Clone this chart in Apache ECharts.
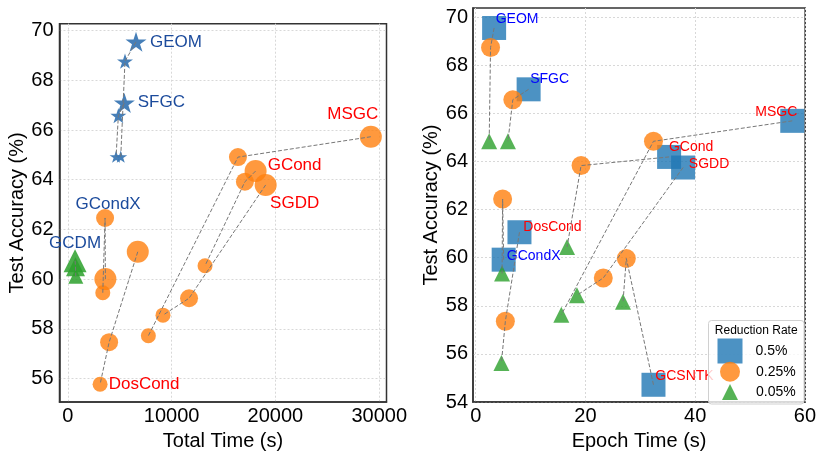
<!DOCTYPE html>
<html>
<head>
<meta charset="utf-8">
<script src="https://cdn.jsdelivr.net/npm/echarts@6/dist/echarts.min.js"></script>
<style>
  html, body { margin: 0; padding: 0; background: #fff; }
  #chart { width: 819px; height: 456px; }
</style>
</head>
<body>
<div id="chart"></div>
<script>
const rates = ['0.5%', '0.25%', '0.05%']

// left panel: total time (s) and test accuracy (%), each row ordered 0.5% / 0.25% / 0.05%
const leftMethods = ['GEOM', 'SFGC', 'GCondX', 'GCDM', 'DosCond', 'MSGC', 'GCond', 'SGDD']
const leftTime = [
  [6570, 5510, 5100],
  [5450, 4870, 4650],
  [3620, 3590, 3370],
  [700, 740, 770],
  [6740, 3980, 3110],
  [29190, 16390, 7760],
  [18090, 17060, 13220],
  [19060, 11680, 9170]
]
const leftAcc = [
  [69.55, 68.77, 64.93],
  [67.09, 66.58, 64.93],
  [60.0, 62.46, 59.45],
  [60.74, 60.5, 60.12],
  [61.1, 57.46, 55.77],
  [65.73, 64.91, 57.72],
  [64.35, 63.92, 60.54],
  [63.79, 59.23, 58.55]
]
const leftXTicks = [0, 10000, 20000, 30000]
const leftYTicks = [56, 58, 60, 62, 64, 66, 68, 70]

// right panel: epoch time (s) and test accuracy (%)
const rightMethods = ['GEOM', 'SFGC', 'MSGC', 'GCond', 'SGDD', 'DosCond', 'GCondX', 'GCSNTK']
const rightEpoch = [
  [3.35, 2.7, 2.45],
  [9.64, 6.76, 5.87],
  [57.7, 32.4, 15.6],
  [35.25, 19.2, 16.65],
  [37.8, 23.25, 18.45],
  [7.97, 5.4, 4.68],
  [5.09, 4.9, 4.8],
  [32.4, 27.45, 26.85]
]
const rightAcc = [
  [69.55, 68.74, 64.84],
  [67.0, 66.57, 64.84],
  [65.69, 64.84, 57.63],
  [64.19, 63.83, 60.45],
  [63.75, 59.16, 58.44],
  [61.06, 57.36, 55.63],
  [59.92, 62.44, 59.35],
  [54.72, 59.97, 58.17]
]
const rightXTicks = [0, 20, 40, 60]
const rightYTicks = [54, 56, 58, 60, 62, 64, 66, 68, 70]

const FONT = '"Liberation Sans", Arial, sans-serif'
const DARK_BLUE = '#1c4b9c'
const RED = '#ff0000'
const BLUE = '#0000ff'

const starPath = 'path://M0,-50L11.23,-15.45L47.55,-15.45L18.16,5.9L29.39,40.45L0,19.1L-29.39,40.45L-18.16,5.9L-47.55,-15.45L-11.23,-15.45Z'
const leftLook = {
  star: { symbol: starPath, sizes: [21, 16, 13], color: 'rgba(60,120,180,0.95)' },
  circle: { symbol: 'circle', sizes: [22, 18, 15], color: 'rgba(255,127,14,0.8)' },
  triangle: { symbol: 'triangle', sizes: [23, 19, 15], color: 'rgba(44,160,44,0.85)' }
}
const leftShape = { GEOM: 'star', SFGC: 'star', GCDM: 'triangle' }

// which point carries the name, and where the text sits relative to it (px)
const leftLabels = {
  GEOM: { at: 0, offset: [40, 0], color: DARK_BLUE },
  SFGC: { at: 0, offset: [37, -1], color: DARK_BLUE },
  GCondX: { at: 1, offset: [3, -14], color: DARK_BLUE },
  GCDM: { at: 0, offset: [0, -17], color: DARK_BLUE },
  DosCond: { at: 2, offset: [44, 0], color: RED },
  MSGC: { at: 0, offset: [-18, -22], color: RED },
  GCond: { at: 0, offset: [39, -6], color: RED },
  SGDD: { at: 0, offset: [29, 18], color: RED }
}
const rightLabels = {
  GEOM: { offset: [23, -9], color: BLUE },
  SFGC: { offset: [21, -10], color: BLUE },
  MSGC: { offset: [-16, -9], color: RED },
  GCond: { offset: [22, -10], color: RED },
  SGDD: { offset: [26, -3], color: RED },
  DosCond: { offset: [33, -5], color: RED },
  GCondX: { offset: [30, -4], color: BLUE },
  GCSNTK: { offset: [31, -9], color: RED }
}
const rightLook = [
  { symbol: 'rect', size: 24, color: 'rgba(31,119,180,0.8)' },
  { symbol: 'circle', size: 19, color: 'rgba(255,127,14,0.8)' },
  { symbol: 'triangle', size: 16, color: 'rgba(44,160,44,0.8)' }
]

function valueAxis(gridIndex, min, max, ticks, name, nameGap, margin) {
  return {
    type: 'value',
    gridIndex,
    min,
    max,
    name,
    nameLocation: 'middle',
    nameGap,
    nameTextStyle: { fontSize: 20, color: '#000', fontFamily: FONT },
    axisLine: { show: true, onZero: false, lineStyle: { color: '#333', width: 1.5 } },
    axisTick: { show: false, customValues: ticks },
    axisLabel: {
      customValues: ticks, fontSize: 20, color: '#000', fontFamily: FONT, margin,
      formatter: v => String(v)
    },
    splitLine: { show: true, lineStyle: { color: '#d8d8d8', type: [2, 2], width: 1 } }
  }
}

function connector(xIdx, yIdx, xs, ys) {
  return {
    type: 'line',
    xAxisIndex: xIdx,
    yAxisIndex: yIdx,
    data: xs.map((x, k) => [x, ys[k]]),
    symbol: 'none',
    silent: true,
    z: 3,
    lineStyle: { color: '#777', width: 1, type: [4, 2] }
  }
}

function nameLabel(text, lab, size) {
  return {
    show: true, formatter: text, position: 'inside', offset: lab.offset,
    color: lab.color, fontSize: size, fontFamily: FONT,
    textBorderWidth: 0, textBorderColor: 'transparent'
  }
}

const series = []

leftMethods.forEach((m, i) => {
  const look = leftLook[leftShape[m] || 'circle']
  const lab = leftLabels[m]
  series.push({
    type: 'scatter',
    xAxisIndex: 0,
    yAxisIndex: 0,
    symbol: look.symbol,
    symbolKeepAspect: true,
    itemStyle: { color: look.color, opacity: 1 },
    z: 2,
    data: leftTime[i].map((t, k) => {
      const item = { value: [t, leftAcc[i][k]], symbolSize: look.sizes[k] }
      if (k === lab.at) item.label = nameLabel(m, lab, 17)
      return item
    })
  })
  series.push(connector(0, 0, leftTime[i], leftAcc[i]))
})

rates.forEach((r, k) => {
  const look = rightLook[k]
  series.push({
    type: 'scatter',
    name: r,
    xAxisIndex: 1,
    yAxisIndex: 1,
    symbol: look.symbol,
    symbolSize: look.size,
    itemStyle: { color: look.color, opacity: 1 },
    z: 2,
    data: rightMethods.map((m, i) => {
      const item = { value: [rightEpoch[i][k], rightAcc[i][k]] }
      if (k === 0) item.label = nameLabel(m, rightLabels[m], 14)
      return item
    })
  })
})
rightMethods.forEach((m, i) => {
  series.push(connector(1, 1, rightEpoch[i], rightAcc[i]))
})

function legendFor(k, left, top, size, pad) {
  return {
    show: true,
    data: [{ name: rates[k], icon: rightLook[k].symbol }],
    left,
    top,
    orient: 'vertical',
    padding: 0,
    itemWidth: size,
    itemHeight: size,
    z: 12,
    selectedMode: false,
    textStyle: { fontSize: 14, color: '#000', fontFamily: FONT, padding: [0, 0, 0, pad] }
  }
}

const chart = echarts.init(document.getElementById('chart'))
chart.setOption({
  animation: false,
  backgroundColor: '#fff',
  textStyle: { fontFamily: FONT },
  grid: [
    { left: 59.5, top: 23.7, width: 327, height: 389, show: true, borderColor: '#333', borderWidth: 1.5 },
    { left: 473, top: 8, width: 336.5, height: 403, show: true, borderColor: '#333', borderWidth: 1.5 }
  ],
  xAxis: [
    valueAxis(0, -800, 30700, leftXTicks, 'Total Time (s)', 23, 4),
    valueAxis(1, -0.5, 60.05, rightXTicks, 'Epoch Time (s)', 25, 4)
  ],
  yAxis: [
    valueAxis(0, 55.05, 70.28, leftYTicks, 'Test Accuracy (%)', 29, 6),
    valueAxis(1, 54, 70.38, rightYTicks, 'Test Accuracy (%)', 29, 5)
  ],
  legend: [
    legendFor(0, 717.5, 338.5, 25, 8),
    legendFor(1, 720, 361.7, 20, 11),
    legendFor(2, 722, 384, 16, 13)
  ],
  graphic: [
    {
      type: 'rect', z: 10, silent: true,
      shape: { x: 708.5, y: 320.5, width: 95.5, height: 83.5, r: 3 },
      style: { fill: 'rgba(255,255,255,0.8)', stroke: '#d0d0d0', lineWidth: 1 }
    },
    {
      type: 'text', z: 11, silent: true, x: 756.2, y: 331,
      style: { text: 'Reduction Rate', fontSize: 12, fontFamily: FONT, fill: '#000', align: 'center', verticalAlign: 'middle' }
    }
  ],
  series
})
</script>
</body>
</html>
